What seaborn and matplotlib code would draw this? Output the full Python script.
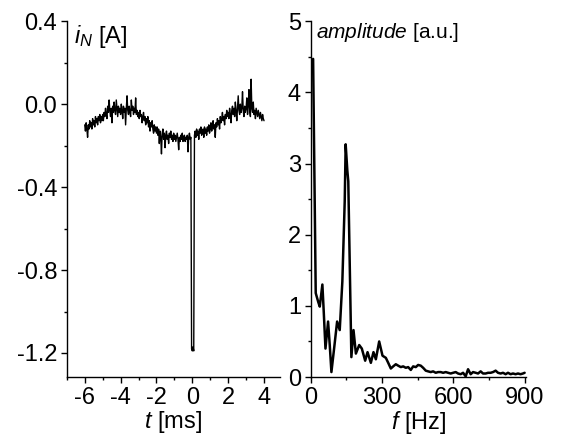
import numpy as np
import pandas as pd
import matplotlib
matplotlib.use("Agg")
import matplotlib.pyplot as plt
import seaborn as sns
from matplotlib.ticker import MultipleLocator

# time trace, one sample every 0.04 ms from -6 to 4 ms
t_start, t_end = -6.0, 4.0
i_n = [
    -0.10, -0.13, -0.09, -0.12, -0.16, -0.10, -0.12, -0.08, -0.11, -0.09, -0.12, -0.07, -0.10, -0.08, -0.11, -0.06, -0.09, -0.07, -0.10, -0.06, -0.08, -0.05, -0.09, -0.06, -0.08,
    -0.05, -0.08, -0.04, -0.06, -0.02, -0.05, -0.07, -0.01, -0.04, 0.02, -0.03, -0.06, -0.02, -0.09, -0.01, -0.04, 0.01, -0.03, -0.05, 0.02, -0.02, -0.06, -0.01, -0.04, -0.02,
    -0.05, 0.00, -0.03, -0.07, -0.01, -0.04, -0.02, -0.10, -0.02, 0.04, -0.03, -0.05, -0.01, -0.04, -0.06, 0.02, -0.03, -0.01, -0.05, -0.02, -0.04, 0.03, -0.05, -0.03, -0.06,
    -0.04, -0.07, -0.03, -0.06, -0.05, -0.09, -0.06, -0.04, -0.08, -0.06, -0.10, -0.07, -0.09, -0.06, -0.11, -0.08, -0.13, -0.09, -0.11, -0.08, -0.12, -0.14, -0.10, -0.13, -0.11,
    -0.14, -0.11, -0.15, -0.12, -0.19, -0.13, -0.16, -0.24, -0.14, -0.12, -0.17, -0.14, -0.21, -0.15, -0.13, -0.17, -0.15, -0.19, -0.14, -0.16, -0.13, -0.17, -0.15, -0.18, -0.14,
    -0.17, -0.15, -0.18, -0.16, -0.14, -0.17, -0.22, -0.16, -0.18, -0.15, -0.17, -0.14, -0.18, -0.16, -0.15, -0.18, -0.16, -0.17, -0.15, -0.23, -0.16, -0.14, -0.17, -0.16, -1.18,
    -1.19, -1.17, -1.19, -0.15, -0.13, -0.16, -0.12, -0.15, -0.13, -0.17, -0.12, -0.14, -0.11, -0.15, -0.13, -0.12, -0.16, -0.11, -0.14, -0.12, -0.15, -0.11, -0.13, -0.10, -0.14,
    -0.12, -0.09, -0.13, -0.11, -0.08, -0.12, -0.10, -0.16, -0.09, -0.11, -0.07, -0.10, -0.08, -0.12, -0.06, -0.09, -0.07, -0.04, -0.08, -0.06, -0.10, -0.05, -0.07, -0.03, -0.06,
    -0.04, -0.07, -0.02, -0.05, -0.09, -0.03, -0.01, -0.05, -0.02, -0.06, 0.01, -0.03, -0.08, -0.02, 0.04, -0.03, -0.05, 0.00, -0.04, -0.02, 0.06, -0.03, -0.06, -0.01, -0.04,
    -0.02, 0.03, -0.05, -0.01, 0.07, -0.03, -0.06, 0.12, -0.02, -0.04, 0.01, -0.05, -0.03, -0.07, -0.02, -0.04, -0.06, -0.03, -0.05, -0.07, -0.04, -0.06, -0.08, -0.05, -0.07,
    -0.08,
]

# spectrum
freq = [0, 10, 21, 32, 38, 49, 55, 62, 73, 80, 87, 99, 111, 122, 133, 143, 147, 154, 158, 171,
        180, 190, 204, 215, 229, 239, 253, 264, 274, 288, 302, 316, 326, 337, 347, 358, 368,
        379, 389, 400, 410, 421, 431, 442, 452, 463, 473, 484, 494, 505, 515, 526, 536, 547,
        557, 568, 578, 589, 599, 610, 620, 631, 641, 652, 662, 673, 683, 694, 704, 715, 725,
        736, 746, 757, 767, 778, 788, 799, 809, 820, 830, 841, 851, 862, 872, 883, 893, 900]
amp = [4.31, 4.47, 1.18, 1.05, 0.99, 1.30, 0.90, 0.40, 0.78, 0.45, 0.07, 0.42, 0.78, 0.66, 1.34, 2.47, 3.27, 2.90, 2.75, 0.28,
       0.66, 0.33, 0.45, 0.40, 0.23, 0.35, 0.20, 0.35, 0.25, 0.50, 0.30, 0.27, 0.20, 0.12, 0.15, 0.18, 0.16,
       0.14, 0.15, 0.13, 0.14, 0.10, 0.15, 0.14, 0.17, 0.16, 0.13, 0.09, 0.08, 0.07, 0.08, 0.06, 0.07, 0.07,
       0.06, 0.07, 0.06, 0.05, 0.06, 0.07, 0.05, 0.04, 0.06, 0.01, 0.11, 0.04, 0.07, 0.06, 0.05, 0.08, 0.05,
       0.05, 0.06, 0.06, 0.07, 0.09, 0.06, 0.05, 0.06, 0.04, 0.06, 0.04, 0.05, 0.04, 0.05, 0.04, 0.05, 0.06]

t = np.linspace(t_start, t_end, len(i_n))
trace = pd.DataFrame({"t": t, "i": i_n})
spec = pd.DataFrame({"f": freq, "a": amp})

sns.set_style("ticks")
plt.rcParams["font.family"] = ["Liberation Sans", "DejaVu Sans"]
plt.rcParams["mathtext.fontset"] = "custom"
plt.rcParams["mathtext.it"] = "Liberation Sans:italic"
plt.rcParams["mathtext.rm"] = "Liberation Sans"
plt.rcParams["text.color"] = "black"
plt.rcParams["axes.labelcolor"] = "black"
plt.rcParams["xtick.color"] = "black"
plt.rcParams["ytick.color"] = "black"

fig = plt.figure(figsize=(5.66, 4.41), dpi=100)
ax1 = fig.add_axes([0.118, 0.145, 0.377, 0.807])
ax2 = fig.add_axes([0.549, 0.145, 0.380, 0.807])

sns.lineplot(data=trace, x="t", y="i", ax=ax1, color="black", lw=1.0)
sns.lineplot(data=spec, x="f", y="a", ax=ax2, color="black", lw=1.8)

fs = 17
for ax in (ax1, ax2):
    sns.despine(ax=ax)
    ax.tick_params(which="major", length=4, width=1, labelsize=fs, pad=3,
                   direction="out", colors="black")
    ax.tick_params(which="minor", length=2.5, width=1, direction="out", colors="black")
    for s in ("left", "bottom"):
        ax.spines[s].set_linewidth(1)
        ax.spines[s].set_color("black")

ax1.set_xlim(-7, 4.9)
ax1.set_ylim(-1.316, 0.4)
ax1.xaxis.set_major_locator(MultipleLocator(2))
ax1.xaxis.set_minor_locator(MultipleLocator(1))
ax1.set_yticks([0.4, 0.0, -0.4, -0.8, -1.2])
ax1.set_yticklabels(["0.4", "0.0", "-0.4", "-0.8", "-1.2"])
ax1.yaxis.set_minor_locator(MultipleLocator(0.2))
ax1.set_xticklabels([str(int(v)) for v in ax1.get_xticks()])
ax1.set_xlabel("$t$ [ms]", fontsize=fs, labelpad=0, color="black")
ax1.set_ylabel("")
ax1.text(0.035, 0.995, "$i_N$ [A]", transform=ax1.transAxes, fontsize=fs,
         ha="left", va="top", color="black")

ax2.set_xlim(0, 905)
ax2.set_ylim(0, 5)
ax2.xaxis.set_major_locator(MultipleLocator(300))
ax2.xaxis.set_minor_locator(MultipleLocator(150))
ax2.yaxis.set_major_locator(MultipleLocator(1))
ax2.yaxis.set_minor_locator(MultipleLocator(0.5))
ax2.set_xlabel("$f$ [Hz]", fontsize=fs, labelpad=0, color="black")
ax2.set_ylabel("")
ax2.text(0.025, 1.0, "$amplitude$ [a.u.]", transform=ax2.transAxes, fontsize=15,
         ha="left", va="top", color="black")

fig.savefig("out.png", dpi=100)
